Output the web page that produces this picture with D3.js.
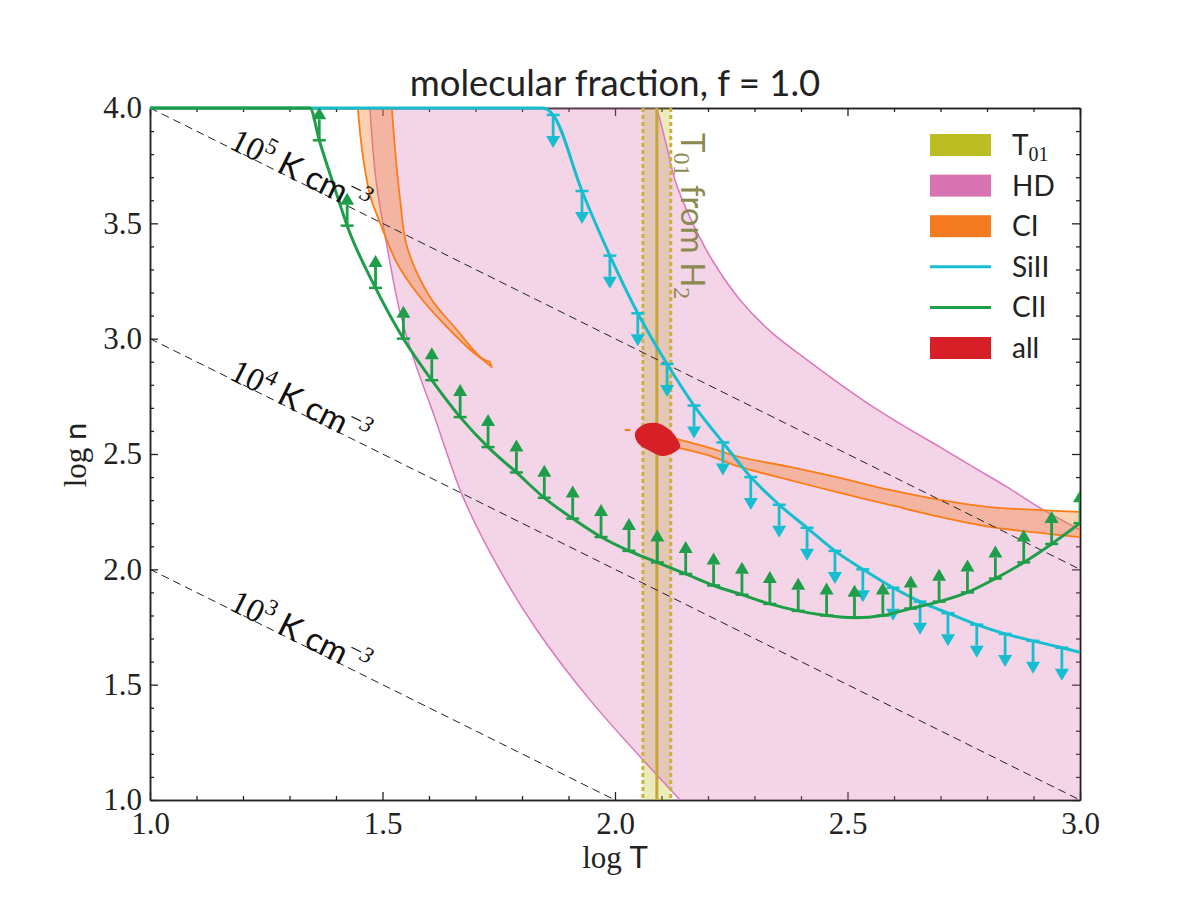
<!DOCTYPE html>
<html>
<head>
<meta charset="utf-8">
<script src="https://cdn.jsdelivr.net/npm/d3@7"></script>
<style>
  body { margin: 0; background: #fff; }
  svg { display: block; }
  .serif { font-family: "Liberation Serif", "DejaVu Serif", serif; }
  .sans { font-family: Lato, "DejaVu Sans", sans-serif; }
</style>
</head>
<body>
<script>
// ---- data (log T, log n) ----
let xTicks = [1.0, 1.5, 2.0, 2.5, 3.0];
let yTicks = [1.0, 1.5, 2.0, 2.5, 3.0, 3.5, 4.0];

// isobars, log P (K cm^-3)
let isobarLogP = [5, 4, 3];

// T01 from H2: low, centre, high
let t01 = [2.06, 2.09, 2.12];

// HD allowed region boundaries
let hdLeft = [[1.473, 4.0], [1.486, 3.688], [1.510, 3.397], [1.538, 3.111], [1.570, 2.895],
              [1.609, 2.678], [1.673, 2.314], [1.746, 2.019], [1.832, 1.737], [1.946, 1.434], [2.140, 1.0]];
let hdRight = [[2.090, 4.0], [2.108, 3.861], [2.129, 3.688], [2.161, 3.527], [2.209, 3.341],
               [2.269, 3.168], [2.338, 3.025], [2.413, 2.908], [2.484, 2.803], [2.555, 2.704],
               [2.628, 2.613], [2.699, 2.530], [2.770, 2.444], [2.843, 2.357], [2.914, 2.266], [3.0, 2.171]];

// CI contours
let ciArmLeft = [[1.447, 4.0], [1.456, 3.818], [1.473, 3.623], [1.495, 3.501], [1.531, 3.328],
                 [1.574, 3.198], [1.624, 3.081], [1.682, 2.964], [1.716, 2.908], [1.735, 2.877]];
let ciArmRight = [[1.520, 4.0], [1.529, 3.775], [1.538, 3.601], [1.553, 3.397], [1.602, 3.181],
                  [1.660, 3.038], [1.710, 2.921], [1.731, 2.899]];
let ciBandUpper = [[2.105, 2.585], [2.140, 2.561], [2.198, 2.530], [2.269, 2.487], [2.376, 2.444],
                   [2.484, 2.396], [2.591, 2.344], [2.699, 2.301], [2.806, 2.270], [2.914, 2.257], [3.0, 2.249]];
let ciBandLower = [[2.105, 2.540], [2.140, 2.526], [2.198, 2.496], [2.269, 2.444], [2.376, 2.387],
                   [2.484, 2.331], [2.591, 2.279], [2.699, 2.227], [2.806, 2.184], [2.914, 2.158], [3.0, 2.140]];
let ciSpeck = [[2.021, 2.604], [2.033, 2.604]];

// SiII upper limit curve and limit markers
let siiCurve = [[1.0, 4.0], [1.845, 4.0], [1.867, 3.97], [1.929, 3.64], [1.989, 3.36], [2.049, 3.11],
                [2.112, 2.89], [2.170, 2.71], [2.232, 2.55], [2.292, 2.40], [2.353, 2.28], [2.413, 2.18],
                [2.473, 2.08], [2.533, 2.00], [2.598, 1.92], [2.656, 1.86], [2.716, 1.81], [2.778, 1.76],
                [2.839, 1.72], [2.899, 1.69], [2.961, 1.66], [3.0, 1.64]];
let siiLimits = [[1.867, 3.97], [1.929, 3.64], [1.989, 3.36], [2.049, 3.11], [2.112, 2.89], [2.170, 2.71],
                 [2.232, 2.55], [2.292, 2.40], [2.353, 2.28], [2.413, 2.18], [2.473, 2.08], [2.533, 2.00],
                 [2.598, 1.92], [2.656, 1.86], [2.716, 1.81], [2.778, 1.76], [2.839, 1.72], [2.899, 1.69],
                 [2.961, 1.66]];

// CII lower limit curve and limit markers
let ciiCurve = [[1.0, 4.0], [1.344, 4.0], [1.364, 3.86], [1.402, 3.623], [1.424, 3.49], [1.485, 3.22],
                [1.545, 3.00], [1.606, 2.82], [1.667, 2.66], [1.727, 2.53], [1.788, 2.42], [1.848, 2.31],
                [1.909, 2.22], [1.970, 2.14], [2.030, 2.08], [2.091, 2.03], [2.152, 1.98], [2.212, 1.93],
                [2.273, 1.89], [2.333, 1.85], [2.394, 1.82], [2.455, 1.80], [2.515, 1.79], [2.576, 1.80],
                [2.636, 1.83], [2.697, 1.86], [2.758, 1.90], [2.818, 1.96], [2.879, 2.03], [2.939, 2.11],
                [3.0, 2.20]];
let ciiLimits = ciiCurve.slice(2).filter(d => d[0] !== 1.402);

// combined constraint ("all")
let allContour = [[2.043, 2.591], [2.060, 2.626], [2.090, 2.634], [2.118, 2.604], [2.135, 2.561],
                  [2.140, 2.530], [2.125, 2.504], [2.101, 2.491], [2.071, 2.517], [2.049, 2.548]];

let legendNames = ["T01", "HD", "CI", "SiII", "CII", "all"];

// ---- styles ----
let col = {t01: "#bcbd22", t01line: "#c6a53c", t01dot: "#cbb23e", hd: "#d673b0", hdline: "#db77bd",
           ci: "#f47b20", ciline: "#fb7d18", sii: "#17becf", cii: "#1e9e48", all: "#d61f26", text01: "#8b8a52"};

let width = 1200, height = 900;
let svg = d3.select("body").append("svg").attr("width", width).attr("height", height);

let x = d3.scaleLinear().domain([1, 3]).range([150, 1080]);
let y = d3.scaleLinear().domain([1, 4]).range([800, 108]);

// axes first, so the curves lying on the frame stay visible
function axis(gen, tr, vals, size, labels) {
  let a = svg.append("g").attr("transform", tr)
    .call(gen.tickValues(vals).tickSize(size).tickSizeOuter(0)
      .tickFormat(labels ? d3.format(".1f") : ""));
  a.select(".domain").attr("stroke", "#222").attr("stroke-width", 1.5);
  a.selectAll(".tick line").attr("stroke", "#222").attr("stroke-width", 1.3);
  a.selectAll("text").attr("class", "serif").attr("font-size", 31).attr("fill", "#222");
  return a;
}
let xMinor = d3.range(10, 31).map(v => v / 10).filter(v => !xTicks.includes(v));
let yMinor = d3.range(10, 41).map(v => v / 10).filter(v => !yTicks.includes(v));
axis(d3.axisBottom(x).tickPadding(12), "translate(0,800)", xTicks, -8, true);
axis(d3.axisBottom(x), "translate(0,800)", xMinor, -4, false);
axis(d3.axisTop(x), "translate(0,108)", xTicks, -8, false);
axis(d3.axisTop(x), "translate(0,108)", xMinor, -4, false);
axis(d3.axisLeft(y).tickPadding(8), "translate(150,0)", yTicks, -8, true);
axis(d3.axisLeft(y), "translate(150,0)", yMinor, -4, false);
axis(d3.axisRight(y), "translate(1080,0)", yTicks, -8, false);
axis(d3.axisRight(y), "translate(1080,0)", yMinor, -4, false);

svg.append("clipPath").attr("id", "plot")
  .append("rect").attr("x", 150).attr("y", 105).attr("width", 930).attr("height", 695);

let g = svg.append("g").attr("clip-path", "url(#plot)");

let line = d3.line().x(d => x(d[0])).y(d => y(d[1]));
let smooth = d3.line().x(d => x(d[0])).y(d => y(d[1])).curve(d3.curveCatmullRom);

// join several open pieces into one closed outline
function outline(pieces) {
  let s = "";
  pieces.forEach((p, i) => {
    let d = p.length === 1 ? "M" + x(p[0][0]) + "," + y(p[0][1]) : (p.length > 2 ? smooth : line)(p);
    s += i === 0 ? d : "L" + d.slice(1);
  });
  return s + "Z";
}

// T01 band (under HD)
g.append("rect")
  .attr("x", x(t01[0])).attr("width", x(t01[2]) - x(t01[0]))
  .attr("y", y(4)).attr("height", y(1) - y(4))
  .attr("fill", col.t01).attr("fill-opacity", 0.3);

// HD
g.append("path")
  .attr("d", outline([hdLeft, [[3.0, 1.0]], hdRight.slice().reverse()]))
  .attr("fill", col.hd).attr("fill-opacity", 0.3);
[hdLeft, hdRight].forEach(c => {
  g.append("path").attr("d", smooth(c)).attr("fill", "none")
    .attr("stroke", col.hdline).attr("stroke-width", 1.5);
});

// CI
[[ciArmLeft, ciArmRight.slice().reverse()], [ciBandUpper, ciBandLower.slice().reverse()]].forEach(p => {
  g.append("path").attr("d", outline(p))
    .attr("fill", col.ci).attr("fill-opacity", 0.35)
    .attr("stroke", col.ciline).attr("stroke-width", 1.8).attr("stroke-linejoin", "round");
});
g.append("path").attr("d", line(ciSpeck)).attr("stroke", col.ciline).attr("stroke-width", 2);

// T01 lines
[t01[0], t01[2]].forEach(t => {
  g.append("line").attr("x1", x(t)).attr("x2", x(t)).attr("y1", y(4)).attr("y2", y(1))
    .attr("stroke", col.t01dot).attr("stroke-width", 3).attr("stroke-dasharray", "4,3");
});
g.append("line").attr("x1", x(t01[1])).attr("x2", x(t01[1])).attr("y1", y(4)).attr("y2", y(1))
  .attr("stroke", col.t01line).attr("stroke-width", 3);

// isobars
isobarLogP.forEach(p => {
  g.append("line")
    .attr("x1", x(1)).attr("y1", y(p - 1))
    .attr("x2", x(3)).attr("y2", y(p - 3))
    .attr("stroke", "#222").attr("stroke-width", 1).attr("stroke-dasharray", "8,5");
});

// limit curves with arrows
function limits(curve, pts, color, dir) {
  g.append("path").attr("d", d3.line().x(d => x(d[0])).y(d => y(d[1])).curve(d3.curveMonotoneX)(curve))
    .attr("fill", "none").attr("stroke", color).attr("stroke-width", 3);
  let L = 33, head = 12, hw = 7;
  let a = g.append("g");
  pts.forEach(d => {
    let px = x(d[0]), py = y(d[1]);
    let tip = py + dir * L;
    a.append("line").attr("x1", px - 6.5).attr("x2", px + 6.5).attr("y1", py).attr("y2", py)
      .attr("stroke", color).attr("stroke-width", 2.5);
    a.append("line").attr("x1", px).attr("x2", px).attr("y1", py).attr("y2", tip - dir * head)
      .attr("stroke", color).attr("stroke-width", 2.8);
    a.append("path")
      .attr("d", `M${px - hw},${tip - dir * head}L${px + hw},${tip - dir * head}L${px},${tip}Z`)
      .attr("fill", color);
  });
}
limits(siiCurve, siiLimits, col.sii, 1);
limits(ciiCurve, ciiLimits, col.cii, -1);

// all
g.append("path").attr("d", d3.line().x(d => x(d[0])).y(d => y(d[1])).curve(d3.curveCatmullRomClosed)(allContour))
  .attr("fill", col.all);

// isobar labels
let ang = Math.atan2(y(2) - y(3), x(2) - x(1)) * 180 / Math.PI;
isobarLogP.forEach(p => {
  let t0 = 1.168;
  let t = svg.append("text")
    .attr("transform", `translate(${x(t0)},${y(p - t0) + 1}) rotate(${ang})`)
    .attr("fill", "#111").attr("font-size", 33);
  t.append("tspan").attr("class", "serif").text("10");
  t.append("tspan").attr("class", "serif").attr("font-size", 23).attr("dy", -13).text(String(p));
  t.append("tspan").attr("class", "sans").attr("dy", 13).text("\u00a0K cm");
  t.append("tspan").attr("class", "serif").attr("font-size", 23).attr("dy", -13).text("\u2212");
  t.append("tspan").attr("class", "serif").attr("font-style", "italic").attr("font-size", 23).text("3");
});

// T01 text
let tt = svg.append("text")
  .attr("transform", `translate(${x(t01[2]) + 10},133) rotate(90)`)
  .attr("fill", col.text01).attr("font-size", 33);
tt.append("tspan").attr("class", "sans").text("T");
tt.append("tspan").attr("class", "serif").attr("font-size", 24).attr("dy", 7).text("01");
tt.append("tspan").attr("class", "sans").attr("dy", -7).text(" from H");
tt.append("tspan").attr("class", "serif").attr("font-size", 24).attr("dy", 7).text("2");

// axis labels and title
let xl = svg.append("text").attr("x", 615).attr("y", 868).attr("text-anchor", "middle")
  .attr("font-size", 31).attr("fill", "#222");
xl.append("tspan").attr("class", "serif").text("log ");
xl.append("tspan").attr("class", "sans").text("T");
let yl = svg.append("text").attr("transform", "translate(86,455) rotate(-90)")
  .attr("text-anchor", "middle").attr("font-size", 31).attr("fill", "#222");
yl.append("tspan").attr("class", "serif").text("log ");
yl.append("tspan").attr("class", "sans").text("n");
svg.append("text").attr("class", "sans").attr("x", 615).attr("y", 96).attr("text-anchor", "middle")
  .attr("font-size", 36.5).attr("fill", "#222").text("molecular fraction, f = 1.0");

// legend
let legColors = [col.t01, col.hd, col.ci, col.sii, col.cii, col.all];
let leg = svg.append("g");
legendNames.forEach((name, i) => {
  let cy = 145 + i * 40.6;
  if (name === "SiII" || name === "CII") {
    leg.append("line").attr("x1", 930).attr("x2", 991).attr("y1", cy).attr("y2", cy)
      .attr("stroke", legColors[i]).attr("stroke-width", 3);
  } else {
    leg.append("rect").attr("x", 930).attr("y", cy - 11).attr("width", 61).attr("height", 22)
      .attr("fill", legColors[i]);
  }
  let t = leg.append("text").attr("x", 1012).attr("y", cy + 10).attr("font-size", 28).attr("fill", "#222");
  if (name === "T01") {
    t.append("tspan").attr("class", "sans").text("T");
    t.append("tspan").attr("class", "serif").attr("font-size", 20).attr("dy", 6).text("01");
  } else {
    t.append("tspan").attr("class", "sans").text(name);
  }
});
</script>
</body>
</html>
